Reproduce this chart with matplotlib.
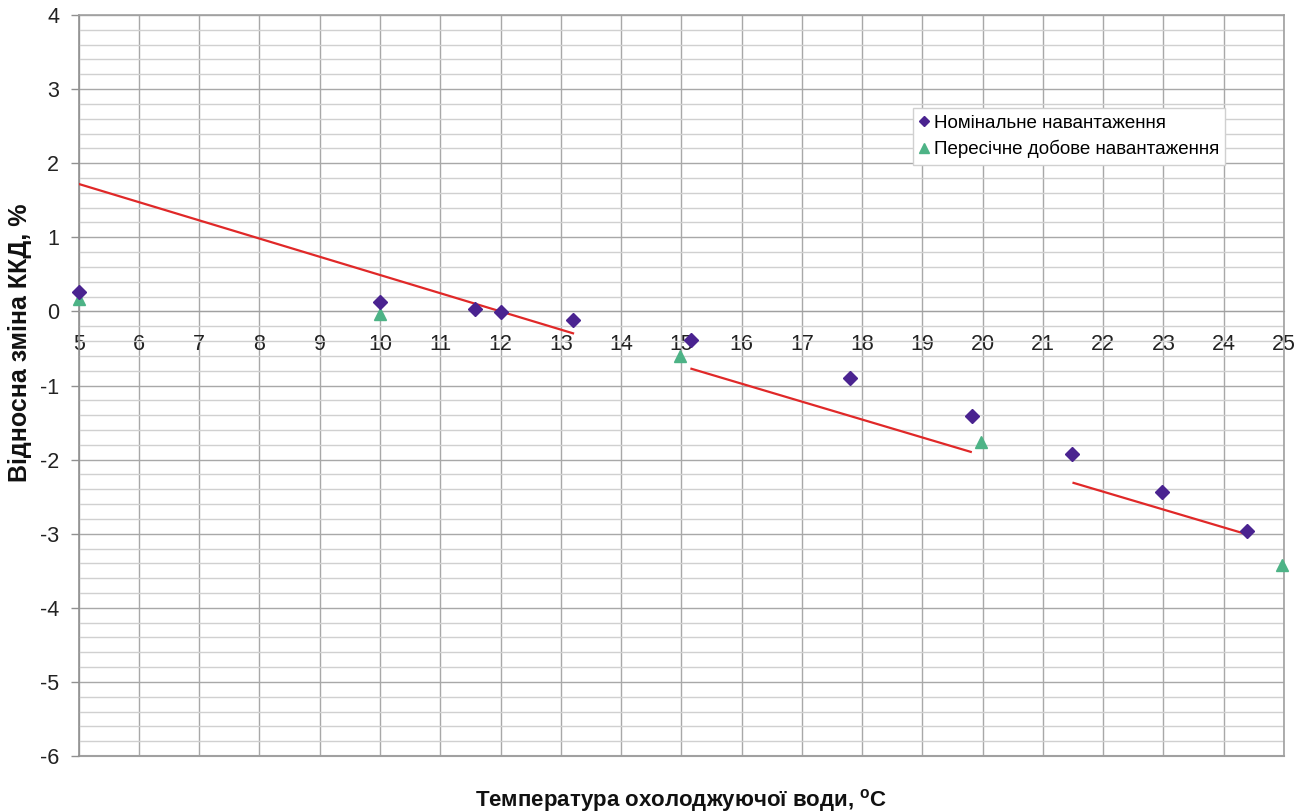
import matplotlib
matplotlib.use("Agg")
import matplotlib.pyplot as plt
from matplotlib.ticker import MultipleLocator

plt.rcParams['font.family'] = ['Liberation Sans', 'DejaVu Sans']
plt.rcParams['mathtext.fontset'] = 'custom'
plt.rcParams['mathtext.rm'] = 'Liberation Sans'
plt.rcParams['mathtext.bf'] = 'Liberation Sans:bold'

# Data
nom_x = [5.0, 10.0, 11.58, 12.01, 13.21, 15.16, 17.8, 19.82, 21.49, 22.97, 24.38]
nom_y = [0.26, 0.13, 0.03, -0.01, -0.12, -0.38, -0.9, -1.41, -1.92, -2.44, -2.96]
avg_x = [5.0, 10.0, 14.98, 19.97, 24.96]
avg_y = [0.17, -0.03, -0.6, -1.76, -3.42]
trend1_x = [5.0, 13.22]
trend1_y = [1.72, -0.30]
trend2_x = [15.15, 19.82]
trend2_y = [-0.77, -1.90]
trend3_x = [21.49, 24.35]
trend3_y = [-2.31, -3.0]

x_ticks = list(range(5, 26))
y_ticks = list(range(-6, 5))

fig = plt.figure(figsize=(13.02, 8.11), dpi=100)
ax = fig.add_axes([78.7/1302, 1-756/811, (1284-78.7)/1302, (756-15)/811])

ax.set_xlim(5, 25)
ax.set_ylim(-6, 4)

# grid
ax.yaxis.set_minor_locator(MultipleLocator(0.2))
ax.set_yticks(y_ticks)
ax.set_xticks(x_ticks)
ax.grid(which='major', axis='both', color='#a8a8a8', linewidth=1.0)
ax.grid(which='minor', axis='y', color='#d0d0d0', linewidth=1.0)
ax.set_axisbelow(True)

# spines
for s in ['top', 'right', 'left']:
    ax.spines[s].set_color('#a0a0a0')
    ax.spines[s].set_linewidth(1.2)
ax.spines['left'].set_color('#909090')
ax.spines['bottom'].set_position(('data', 0))
ax.spines['bottom'].set_color('#a0a0a0')
ax.axhline(-6, color='#a0a0a0', linewidth=1.5, clip_on=False, zorder=1)

ax.tick_params(axis='x', which='both', length=0, pad=16, labelsize=15.5, labelcolor='#222222')
ax.tick_params(axis='y', which='major', length=6, width=1, color='#909090', pad=8,
               labelsize=15.5, labelcolor='#222222', direction='out')
ax.tick_params(axis='y', which='minor', length=0)

ax.set_xticklabels([str(v) for v in x_ticks])
ax.set_yticklabels([str(v) for v in y_ticks])

# trend lines
for tx, ty in [(trend1_x, trend1_y), (trend2_x, trend2_y), (trend3_x, trend3_y)]:
    ax.plot(tx, ty, color='#e02828', linewidth=1.6, zorder=3, solid_capstyle='butt')

ax.plot(nom_x, nom_y, linestyle='none', marker='D', markersize=7,
        color='#4a2390', label='Номінальне навантаження', zorder=5, clip_on=False)
ax.plot(avg_x, avg_y, linestyle='none', marker='^', markersize=9,
        color='#4db386', label='Пересічне добове навантаження', zorder=4, clip_on=False)

leg = ax.legend(loc='upper left', bbox_to_anchor=((913-78.7)/(1284-78.7), 1-(108-15)/(756-15)),
                frameon=True, fancybox=False, fontsize=13.5, handlelength=0.5,
                handletextpad=0.25, borderpad=0.35, labelspacing=0.45, borderaxespad=0,
                markerscale=0.75)
leg.get_frame().set_edgecolor('#d0d0d0')
leg.get_frame().set_linewidth(1.0)
leg.get_frame().set_facecolor('white')
leg.get_frame().set_alpha(1.0)

fig.text(20/1302, 1-343/811, 'Відносна зміна ККД, %', rotation=90, ha='center', va='center',
         fontsize=18, fontweight='bold', color='#111111')
fig.text(681/1302, 1-800/811, r'Температура охолоджуючої води, $^{\mathbf{o}}$C', ha='center', va='center',
         fontsize=16, fontweight='bold', color='#111111')

fig.savefig('out.png', dpi=100)
